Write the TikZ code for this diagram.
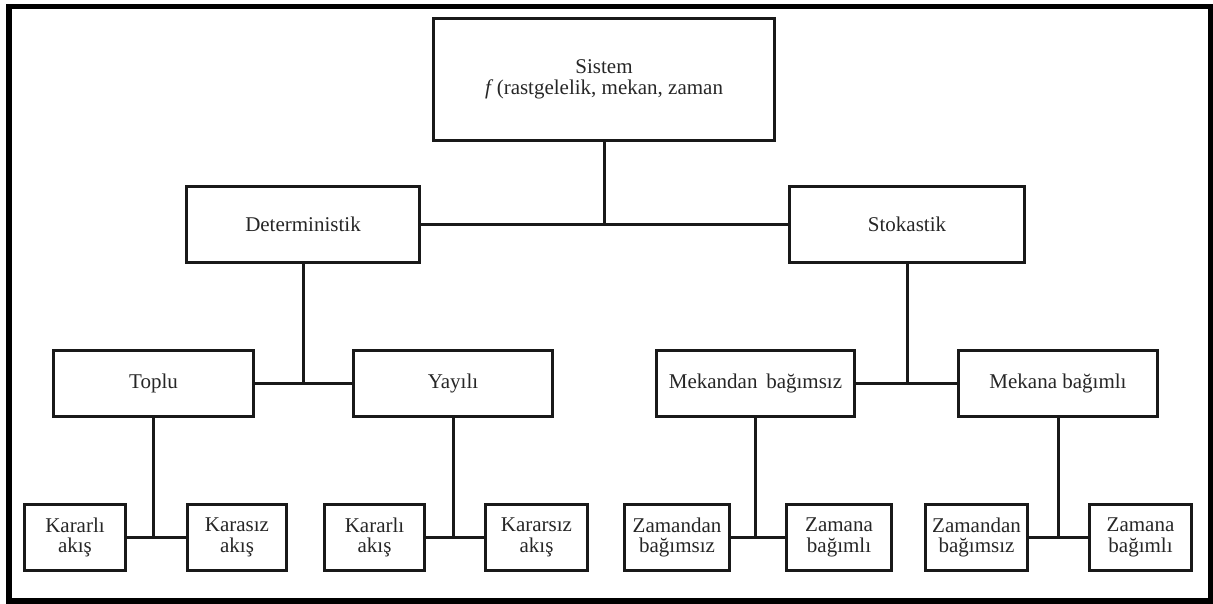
\documentclass[tikz,border=0pt]{standalone}
\usepackage{fontspec}
\setmainfont{Liberation Serif}
\begin{document}
\begin{tikzpicture}[x=1pt,y=-1pt,
  box/.style={draw=black!90, line width=3pt, rectangle, inner sep=0pt,
    align=center, font=\fontsize{21}{20.5}\selectfont, text=black!85},
  midbox/.style={box, minimum height=66pt},
  leafbox/.style={box, minimum height=66pt},
  wire/.style={draw=black!90, line width=3pt},
  frame/.style={draw=black, line width=5.5pt}]
\useasboundingbox (0,0) rectangle (1213,603);
\draw[frame] (9,6.5) rectangle (1211,601);

% root
\node[box, minimum width=341pt, minimum height=122pt] (sys) at (604,79.5)
  {Sistem\\\textit{f}\,(rastgelelik, mekan, zaman};

% first level
\node[box, minimum width=233pt, minimum height=76pt] (det) at (303,224.5) {Deterministik};
\node[box, minimum width=235pt, minimum height=76pt] (sto) at (907,224.5) {Stokastik};

% second level
\node[midbox, minimum width=200pt] (top) at (153.5,383.5) {Toplu};
\node[midbox, minimum width=199pt] (yay) at (453,383.5) {Yayılı};
\node[midbox, minimum width=198pt] (mbz) at (755.5,383.5) {Mekandan\, bağımsız};
\node[midbox, minimum width=199pt] (mbl) at (1058,383.5) {Mekana bağımlı};

% leaves
\node[leafbox, minimum width=101pt] (ka1) at (75,537.5)   {Kararlı\\akış};
\node[leafbox, minimum width=99pt]  (ks1) at (237,537.5)  {Karasız\\akış};
\node[leafbox, minimum width=100pt] (ka2) at (374.5,537.5) {Kararlı\\akış};
\node[leafbox, minimum width=102pt] (ks2) at (536.5,537.5) {Kararsız\\akış};
\node[leafbox, minimum width=105pt] (zb1) at (677,537.5)  {Zamandan\\bağımsız};
\node[leafbox, minimum width=105pt] (zl1) at (839,537.5)  {Zamana\\bağımlı};
\node[leafbox, minimum width=102pt] (zb2) at (976.5,537.5) {Zamandan\\bağımsız};
\node[leafbox, minimum width=102pt] (zl2) at (1140.5,537.5) {Zamana\\bağımlı};

% connectors
\draw[wire] (sys.south) -- (sys.south |- det.east);
\draw[wire] (det.east) -- (sto.west);

\draw[wire] (det.south) -- (det.south |- top.east);
\draw[wire] (top.east) -- (yay.west);
\draw[wire] (sto.south) -- (sto.south |- mbz.east);
\draw[wire] (mbz.east) -- (mbl.west);

\draw[wire] (top.south) -- (top.south |- ka1.east);
\draw[wire] (ka1.east) -- (ks1.west);
\draw[wire] (yay.south) -- (yay.south |- ka2.east);
\draw[wire] (ka2.east) -- (ks2.west);
\draw[wire] (mbz.south) -- (mbz.south |- zb1.east);
\draw[wire] (zb1.east) -- (zl1.west);
\draw[wire] (mbl.south) -- (mbl.south |- zb2.east);
\draw[wire] (zb2.east) -- (zl2.west);
\end{tikzpicture}
\end{document}
